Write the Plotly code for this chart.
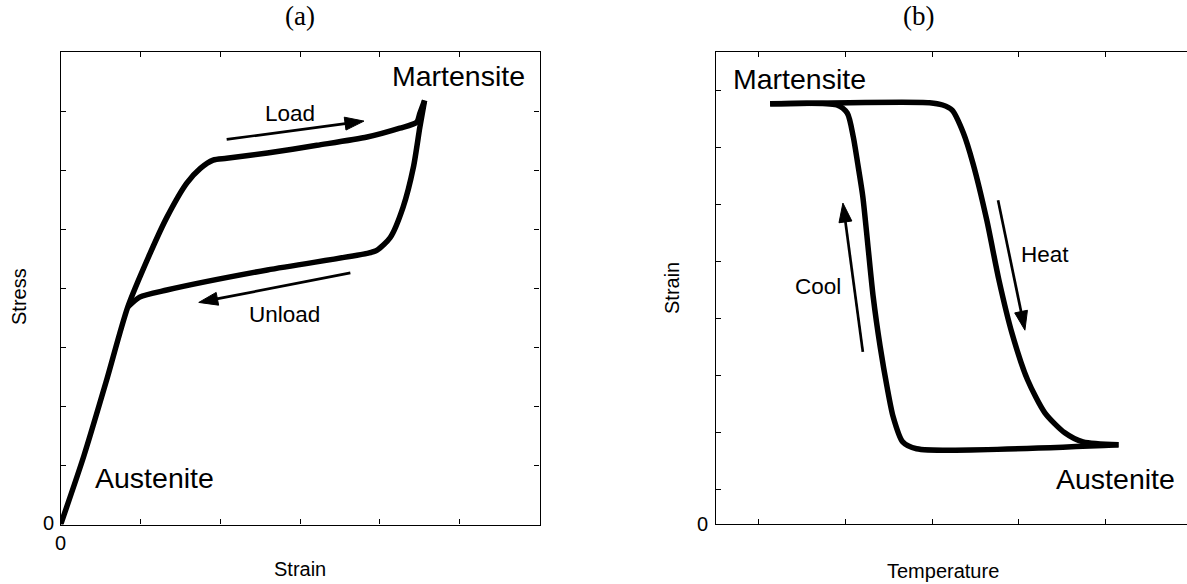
import plotly.graph_objects as go
import numpy as np

W, H = 1187, 584

# ---------------- data: panel (a) stress-strain ----------------
load_strain = [0, 0.29, 0.57, 0.84, 1.12, 1.33, 1.58, 1.75, 1.91, 2.08, 2.59, 3.21, 3.84, 4.25, 4.46, 4.50, 4.56]
load_stress = [0, 1.16, 2.42, 3.68, 4.59, 5.20, 5.78, 6.03, 6.17, 6.20, 6.29, 6.42, 6.56, 6.71, 6.81, 6.96, 7.18]
unload_strain = [4.56, 4.50, 4.42, 4.29, 4.13, 3.96, 3.84, 2.59, 1.33, 0.99, 0.84]
unload_stress = [7.18, 6.72, 6.05, 5.37, 4.86, 4.64, 4.59, 4.31, 3.97, 3.85, 3.68]
load_arrow_x = [2.08, 3.80]
load_arrow_y = [6.52, 6.83]
unload_arrow_x = [3.63, 1.73]
unload_arrow_y = [4.26, 3.76]

# ---------------- data: panel (b) strain-temperature ----------------
heat_temp = [0.13, 1.97, 2.12, 2.23, 2.36, 2.47, 2.63, 2.77, 2.92, 3.10, 3.30, 3.53, 3.74, 4.15]
heat_strain = [7.37, 7.39, 7.35, 7.26, 6.86, 6.33, 5.33, 4.28, 3.35, 2.53, 1.95, 1.60, 1.44, 1.39]
cool_temp = [4.15, 1.82, 1.66, 1.55, 1.48, 1.40, 1.32, 1.26, 1.20, 1.14, 1.09, 1.02, 0.90, 0.13]
cool_strain = [1.39, 1.32, 1.44, 1.88, 2.40, 3.11, 3.98, 4.86, 5.74, 6.33, 6.79, 7.21, 7.35, 7.37]
cool_arrow_x = [1.20, 0.97]
cool_arrow_y = [3.02, 5.63]
heat_arrow_x = [2.76, 3.07]
heat_arrow_y = [5.68, 3.40]

# ---------------- layout geometry (pixels) ----------------
PA = dict(xr=(0, 6), px=(60.7, 539.5), yr=(0, 8), py=(524.5, 52))
PB = dict(xr=(-0.5, 4.94), px=(715.5, 1187), yr=(0, 8.28), py=(524, 52))

FONT = "Liberation Sans, Arial, Helvetica, sans-serif"
SERIF = "Liberation Serif, Times New Roman, serif"
LW = 5.5

def to_px(P, x, y):
    fx = (x - P['xr'][0]) / (P['xr'][1] - P['xr'][0])
    fy = (y - P['yr'][0]) / (P['yr'][1] - P['yr'][0])
    return (P['px'][0] + fx * (P['px'][1] - P['px'][0]),
            P['py'][0] + fy * (P['py'][1] - P['py'][0]))

def to_data(P, px, py):
    fx = (px - P['px'][0]) / (P['px'][1] - P['px'][0])
    fy = (py - P['py'][0]) / (P['py'][1] - P['py'][0])
    return (P['xr'][0] + fx * (P['xr'][1] - P['xr'][0]),
            P['yr'][0] + fy * (P['yr'][1] - P['yr'][0]))

def arrow_traces(P, xs, ys, xa, ya, L=19, hw=6.5, w=2.7):
    p0 = np.array(to_px(P, xs[0], ys[0]))
    p1 = np.array(to_px(P, xs[1], ys[1]))
    d = (p1 - p0) / np.linalg.norm(p1 - p0)
    n = np.array([-d[1], d[0]])
    base = p1 - d * L
    tri = [p1, base + n * hw, base - n * hw, p1]
    tri_d = [to_data(P, *p) for p in tri]
    shaft_end = to_data(P, *(base + d * 2))
    shaft = go.Scatter(x=[xs[0], shaft_end[0]], y=[ys[0], shaft_end[1]], mode='lines',
                       line=dict(color='black', width=w), xaxis=xa, yaxis=ya, hoverinfo='skip')
    head = go.Scatter(x=[p[0] for p in tri_d], y=[p[1] for p in tri_d], mode='lines',
                      fill='toself', fillcolor='black', line=dict(color='black', width=1),
                      xaxis=xa, yaxis=ya, hoverinfo='skip')
    return [shaft, head]

fig = go.Figure()
curve = dict(color='black', width=LW, shape='spline', smoothing=0.7)
fig.add_trace(go.Scatter(x=load_strain, y=load_stress, mode='lines', line=curve, xaxis='x', yaxis='y'))
fig.add_trace(go.Scatter(x=unload_strain, y=unload_stress, mode='lines', line=curve, xaxis='x', yaxis='y'))
fig.add_trace(go.Scatter(x=heat_temp, y=heat_strain, mode='lines', line=curve, xaxis='x2', yaxis='y2'))
fig.add_trace(go.Scatter(x=cool_temp, y=cool_strain, mode='lines', line=curve, xaxis='x2', yaxis='y2'))
for tr in (arrow_traces(PA, load_arrow_x, load_arrow_y, 'x', 'y') +
           arrow_traces(PA, unload_arrow_x, unload_arrow_y, 'x', 'y') +
           arrow_traces(PB, cool_arrow_x, cool_arrow_y, 'x2', 'y2') +
           arrow_traces(PB, heat_arrow_x, heat_arrow_y, 'x2', 'y2')):
    fig.add_trace(tr)

def axis(P, horiz, tickvals, mirror, anchor):
    if horiz:
        dom = [P['px'][0] / W, P['px'][1] / W]
        rng = list(P['xr'])
    else:
        dom = [1 - P['py'][0] / H, 1 - P['py'][1] / H]
        rng = list(P['yr'])
    return dict(domain=dom, range=rng, showline=True, linecolor='black', linewidth=1.3,
                mirror=mirror, ticks='inside', ticklen=5, tickwidth=1, tickcolor='black',
                tickvals=tickvals, showticklabels=False, showgrid=False, zeroline=False,
                anchor=anchor, fixedrange=True)

fig.update_layout(
    width=W, height=H, margin=dict(l=0, r=0, t=0, b=0),
    paper_bgcolor='white', plot_bgcolor='white', showlegend=False,
    xaxis=axis(PA, True, [0, 1, 2, 3, 4, 5, 6], 'ticks', 'y'),
    yaxis=axis(PA, False, [0, 1, 2, 3, 4, 5, 6, 7, 8], 'ticks', 'x'),
    xaxis2=axis(PB, True, [0, 1, 2, 3, 4], 'ticks', 'y2'),
    yaxis2=axis(PB, False, [0.6, 1.6, 2.6, 3.6, 4.6, 5.6, 6.6, 7.6], False, 'x2'),
)

def ptxt(text, px, py, size=20, angle=0, family=FONT):
    fig.add_annotation(text=text, x=px / W, y=1 - py / H, xref='paper', yref='paper',
                       showarrow=False, textangle=angle, xanchor='center', yanchor='middle',
                       font=dict(family=family, size=size, color='black'))

def dtxt(text, x, y, xa, ya, size=22.5):
    fig.add_annotation(text=text, x=x, y=y, xref=xa, yref=ya, showarrow=False,
                       xanchor='center', yanchor='middle',
                       font=dict(family=FONT, size=size, color='black'))

# titles
ptxt("(a)", 300, 16, size=27, family=SERIF)
ptxt("(b)", 918, 16, size=27, family=SERIF)
# axis titles
ptxt("Stress", 19, 296, angle=-90)
ptxt("Strain", 300, 569)
ptxt("Strain", 672, 288, angle=-90)
ptxt("Temperature", 943, 571)
# zero labels
ptxt("0", 48, 523)
ptxt("0", 60, 543)
ptxt("0", 702, 524)
# in-plot labels
dtxt("Martensite", 4.99, 7.59, 'x', 'y', size=28.5)
dtxt("Austenite", 1.18, 0.79, 'x', 'y', size=28.5)
dtxt("Load", 2.87, 6.96, 'x', 'y')
dtxt("Unload", 2.81, 3.56, 'x', 'y')
dtxt("Martensite", 0.47, 7.81, 'x2', 'y2', size=28.5)
dtxt("Austenite", 4.12, 0.79, 'x2', 'y2', size=28.5)
dtxt("Cool", 0.68, 4.16, 'x2', 'y2')
dtxt("Heat", 3.30, 4.72, 'x2', 'y2')

fig.write_html("out.html", config={'displayModeBar': False},
               post_script="document.body.style.margin='0';document.body.style.overflow='hidden';")
